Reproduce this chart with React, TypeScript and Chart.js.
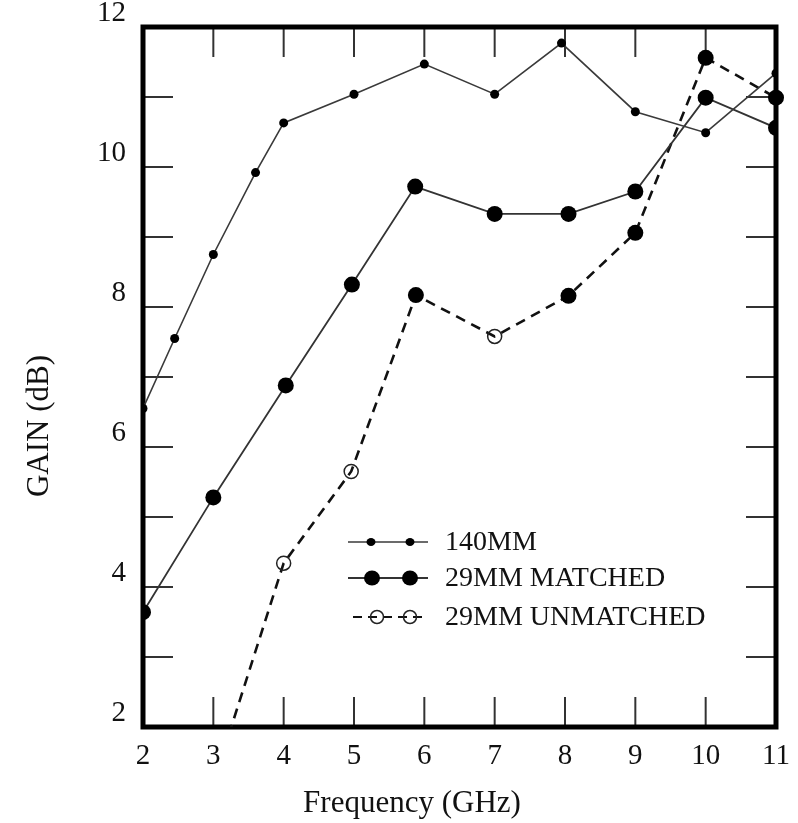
import React, { useEffect, useRef } from 'react';
import { Chart, registerables } from 'chart.js';

Chart.register(...registerables);

// ---- data ----
const xTicks = [2, 3, 4, 5, 6, 7, 8, 9, 10, 11];
const yTicks = [2, 3, 4, 5, 6, 7, 8, 9, 10, 11, 12];
const yLabelValues = [2, 4, 6, 8, 10, 12];

const seriesNames = ['140MM', '29MM MATCHED', '29MM UNMATCHED'];
const xTitle = 'Frequency (GHz)';
const yTitle = 'GAIN (dB)';

const freq140 = [2, 2.45, 3, 3.6, 4, 5, 6, 7, 7.95, 9, 10, 11];
const gain140 = [6.55, 7.55, 8.75, 9.92, 10.63, 11.04, 11.47, 11.04, 11.77, 10.79, 10.49, 11.34];

const freqMatched = [2, 3, 4.03, 4.97, 5.87, 7, 8.05, 9, 10, 11];
const gainMatched = [3.64, 5.28, 6.88, 8.32, 9.72, 9.33, 9.33, 9.65, 10.99, 10.56];

const freqUnmatched = [3, 4, 4.96, 5.88, 7, 8.05, 9, 10, 11];
const gainUnmatched = [1.2, 4.34, 5.65, 8.17, 7.58, 8.16, 9.06, 11.56, 10.99];
const unmatchedOpen = [true, true, true, false, true, false, false, false, false];

const FONT = "'Liberation Serif', 'Times New Roman', serif";

const toPoints = (xs: number[], ys: number[]) => xs.map((x, i) => ({ x, y: ys[i] }));

const decor = {
  id: 'decor',
  beforeDatasetsDraw(chart: any) {
    const { ctx, chartArea: a, scales } = chart;
    const xs = scales.x;
    const ys = scales.y;
    const seg = (x1: number, y1: number, x2: number, y2: number) => {
      ctx.beginPath();
      ctx.moveTo(x1, y1);
      ctx.lineTo(x2, y2);
      ctx.stroke();
    };
    ctx.save();
    ctx.strokeStyle = '#333';
    ctx.lineWidth = 2;
    const L = 30;
    xTicks.forEach((v) => {
      if (v <= xs.min || v >= xs.max) return;
      const px = xs.getPixelForValue(v);
      seg(px, a.bottom, px, a.bottom - L);
      seg(px, a.top, px, a.top + L);
    });
    yTicks.forEach((v) => {
      if (v <= ys.min || v >= ys.max) return;
      const py = ys.getPixelForValue(v);
      seg(a.left, py, a.left + L, py);
      seg(a.right, py, a.right - L, py);
    });
    ctx.strokeStyle = '#000';
    ctx.lineWidth = 5;
    ctx.strokeRect(a.left, a.top, a.right - a.left, a.bottom - a.top);
    ctx.restore();
  },
  afterDraw(chart: any) {
    const { ctx } = chart;
    ctx.save();
    ctx.fillStyle = '#111';
    // axis titles
    ctx.font = `31px ${FONT}`;
    ctx.textAlign = 'center';
    ctx.textBaseline = 'middle';
    ctx.fillText(xTitle, 412, 804);
    ctx.save();
    ctx.translate(40, 426);
    ctx.rotate(-Math.PI / 2);
    ctx.fillText(yTitle, 0, 0);
    ctx.restore();

    // legend
    const rows = [
      { y: 542, x1: 348, x2: 428, m: [371, 410] },
      { y: 578, x1: 348, x2: 428, m: [372, 410] },
      { y: 617, x1: 353, x2: 425, m: [377, 410] },
    ];
    const ds = chart.data.datasets;
    rows.forEach((r, i) => {
      const d: any = ds[i];
      ctx.save();
      ctx.strokeStyle = d.borderColor;
      ctx.lineWidth = i === 2 ? 2 : d.borderWidth;
      ctx.setLineDash(i === 2 ? [9, 6] : []);
      ctx.beginPath();
      ctx.moveTo(r.x1, r.y);
      ctx.lineTo(r.x2, r.y);
      ctx.stroke();
      ctx.setLineDash([]);
      r.m.forEach((mx) => {
        ctx.beginPath();
        if (i === 0) {
          ctx.ellipse(mx, r.y, 4.5, 4, 0, 0, Math.PI * 2);
          ctx.fillStyle = '#000';
          ctx.fill();
        } else if (i === 1) {
          ctx.ellipse(mx, r.y, 8, 7.5, 0, 0, Math.PI * 2);
          ctx.fillStyle = '#000';
          ctx.fill();
        } else {
          ctx.arc(mx, r.y, 6.5, 0, Math.PI * 2);
          ctx.strokeStyle = '#222';
          ctx.lineWidth = 1.5;
          ctx.stroke();
        }
      });
      ctx.restore();
      ctx.font = `28px ${FONT}`;
      ctx.textAlign = 'left';
      ctx.textBaseline = 'middle';
      ctx.fillStyle = '#111';
      ctx.fillText(seriesNames[i], 445, r.y + 1);
    });
    ctx.restore();
  },
};

export default function App() {
  const ref = useRef<HTMLCanvasElement | null>(null);

  useEffect(() => {
    if (!ref.current) return;
    const chart = new Chart(ref.current, {
      type: 'line',
      data: {
        datasets: [
          {
            label: seriesNames[0],
            data: toPoints(freq140, gain140),
            borderColor: '#3a3a3a',
            borderWidth: 1.6,
            pointRadius: 4.5,
            pointBackgroundColor: '#000',
            pointBorderColor: '#000',
            pointBorderWidth: 0,
            tension: 0,
          },
          {
            label: seriesNames[1],
            data: toPoints(freqMatched, gainMatched),
            borderColor: '#333',
            borderWidth: 1.8,
            pointRadius: 8,
            pointBackgroundColor: '#000',
            pointBorderColor: '#000',
            pointBorderWidth: 0,
            tension: 0,
          },
          {
            label: seriesNames[2],
            data: toPoints(freqUnmatched, gainUnmatched),
            borderColor: '#111',
            borderWidth: 2.6,
            borderDash: [10, 7],
            pointRadius: unmatchedOpen.map((o) => (o ? 7 : 8)),
            pointBackgroundColor: unmatchedOpen.map((o) => (o ? 'rgba(0,0,0,0)' : '#000')),
            pointBorderColor: '#222',
            pointBorderWidth: unmatchedOpen.map((o) => (o ? 1.5 : 0)),
            tension: 0,
            clip: { left: 12, top: 12, right: 12, bottom: 0 } as any,
          },
        ],
      },
      options: {
        responsive: false,
        animation: false,
        devicePixelRatio: 1,
        layout: { padding: { top: 27, right: 22, left: 0, bottom: 0 } },
        plugins: {
          legend: { display: false },
          tooltip: { enabled: false },
        },
        scales: {
          x: {
            type: 'linear',
            min: 2,
            max: 11,
            afterBuildTicks: (s: any) => {
              s.ticks = xTicks.map((v) => ({ value: v }));
            },
            afterFit: (s: any) => {
              s.height = 96;
              s.paddingLeft = 0;
              s.paddingRight = 0;
            },
            grid: { display: false, drawTicks: false },
            border: { display: false },
            ticks: {
              color: '#111',
              padding: 12,
              maxRotation: 0,
              autoSkip: false,
              font: { family: FONT, size: 29 },
              callback: (v: any) => String(v),
            },
          },
          y: {
            type: 'linear',
            min: 2,
            max: 12,
            afterBuildTicks: (s: any) => {
              s.ticks = yTicks.map((v) => ({ value: v }));
            },
            afterFit: (s: any) => {
              s.width = 143;
              s.paddingTop = 0;
              s.paddingBottom = 0;
            },
            grid: { display: false, drawTicks: false },
            border: { display: false },
            ticks: {
              color: '#111',
              padding: 17,
              labelOffset: -14,
              autoSkip: false,
              font: { family: FONT, size: 29 },
              callback: (v: any) => (yLabelValues.includes(Number(v)) ? String(v) : ''),
            },
          },
        },
      },
      plugins: [decor],
    });
    return () => chart.destroy();
  }, []);

  return (
    <div style={{ position: 'fixed', left: 0, top: 0, width: 798, height: 823, background: '#fff' }}>
      <canvas ref={ref} width={798} height={823} style={{ display: 'block' }} />
    </div>
  );
}
